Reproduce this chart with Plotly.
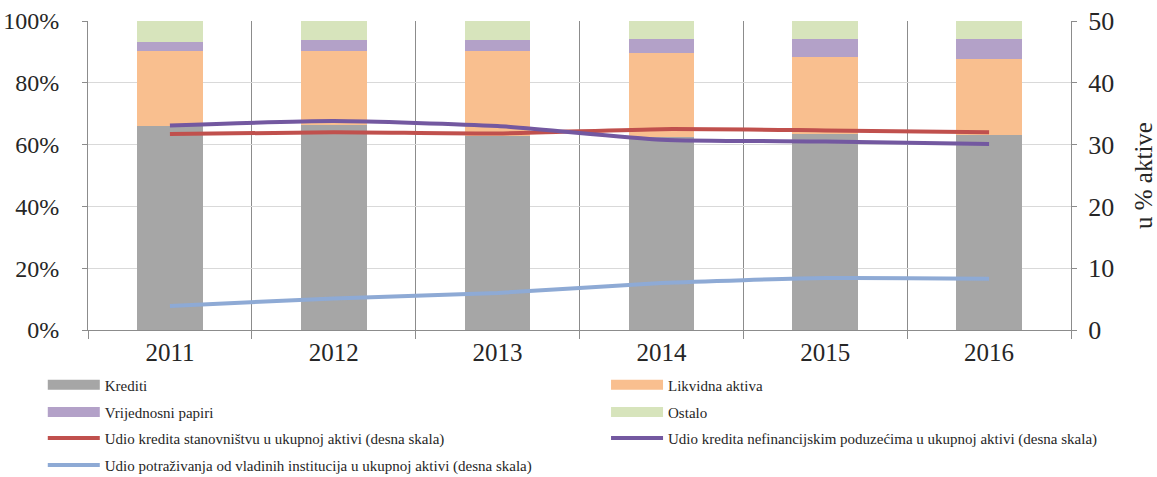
import plotly.graph_objects as go

years = ["2011", "2012", "2013", "2014", "2015", "2016"]

# structure of assets, % (left scale)
krediti = [65.9, 66.3, 62.7, 62.5, 63.5, 63.0]
likvidna = [24.5, 24.1, 27.7, 27.2, 24.9, 24.7]
vrijednosni = [2.7, 3.3, 3.3, 4.6, 5.9, 6.6]
ostalo = [6.9, 6.3, 6.3, 5.7, 5.7, 5.7]

# shares in total assets (right scale)
udio_stan = [31.7, 32.0, 31.8, 32.5, 32.3, 32.0]
udio_nefin = [33.1, 33.8, 33.0, 30.8, 30.5, 30.1]
udio_vlada = [3.9, 5.1, 6.0, 7.6, 8.4, 8.3]

serif = "Liberation Serif"
txt = "#262626"

fig = go.Figure()

# one legend per entry, laid out in two columns like the original
bars = [
    ("Krediti", krediti, "#a6a6a6", "legend"),
    ("Likvidna aktiva", likvidna, "#f9bf8f", "legend2"),
    ("Vrijednosni papiri", vrijednosni, "#b3a1c8", "legend3"),
    ("Ostalo", ostalo, "#d7e4bc", "legend4"),
]
for name, vals, col, leg in bars:
    fig.add_trace(go.Bar(
        x=years, y=[v / 100 for v in vals], name=name, showlegend=False,
        marker_color=col, marker_line_width=0, width=0.4
    ))
    # wide flat swatch in the legend, like the Excel original
    fig.add_trace(go.Scatter(
        x=[None], y=[None], name=name, legend=leg, mode="lines",
        line=dict(color=col, width=10), hoverinfo="skip"
    ))

lines = [
    ("Udio kredita stanovništvu u ukupnoj aktivi (desna skala)", udio_stan, "#c0504d", "legend5"),
    ("Udio kredita nefinancijskim poduzećima u ukupnoj aktivi (desna skala)", udio_nefin, "#7358a0", "legend6"),
    ("Udio potraživanja od vladinih institucija u ukupnoj aktivi (desna skala)", udio_vlada, "#8eaad5", "legend7"),
]
for name, vals, col, leg in lines:
    fig.add_trace(go.Scatter(
        x=years, y=vals, name=name, yaxis="y2", mode="lines", legend=leg,
        line=dict(color=col, width=4, shape="spline", smoothing=0.6)
    ))


def leg(x, y):
    return dict(
        orientation="h", x=x, xanchor="left", y=y, yanchor="middle",
        itemwidth=52, font=dict(size=15, family=serif, color=txt),
        bgcolor="rgba(0,0,0,0)",
    )


col1, col2 = -0.046, 0.527
row = [-0.178, -0.266, -0.350, -0.438]

fig.update_layout(
    width=1157, height=477,
    margin=dict(l=88, r=86, t=21, b=147, autoexpand=False),
    barmode="stack", bargap=0.6, showlegend=True,
    plot_bgcolor="white", paper_bgcolor="white",
    font=dict(family=serif, color=txt),
    xaxis=dict(
        type="category", tickson="boundaries",
        showgrid=True, gridcolor="#8c8c8c", gridwidth=1,
        showline=True, linecolor="#8c8c8c", linewidth=1,
        ticks="outside", ticklen=8, tickcolor="#8c8c8c",
        tickfont=dict(size=25, family=serif, color=txt),
    ),
    yaxis=dict(
        range=[0, 1], tickvals=[0, 0.2, 0.4, 0.6, 0.8, 1.0], tickformat=".0%",
        showgrid=True, gridcolor="#d9d9d9", gridwidth=1, zeroline=False,
        showline=True, linecolor="#8c8c8c", linewidth=1,
        ticks="outside", ticklen=5, tickcolor="#8c8c8c",
        tickfont=dict(size=24, family=serif, color=txt), ticklabelstandoff=18,
    ),
    yaxis2=dict(
        range=[0, 50], dtick=10, overlaying="y", side="right",
        showgrid=False, zeroline=False,
        showline=True, linecolor="#8c8c8c", linewidth=1,
        ticks="outside", ticklen=5, tickcolor="#8c8c8c",
        tickfont=dict(size=26, family=serif, color=txt), ticklabelstandoff=6,
        title=dict(text="u % aktive", font=dict(size=25, family=serif, color=txt), standoff=24),
    ),
    legend=leg(col1, row[0]),
    legend2=leg(col2, row[0]),
    legend3=leg(col1, row[1]),
    legend4=leg(col2, row[1]),
    legend5=leg(col1, row[2]),
    legend6=leg(col2, row[2]),
    legend7=leg(col1, row[3]),
)

fig.write_html("out.html", config={"displayModeBar": False},
               post_script="document.body.style.margin='0';")
